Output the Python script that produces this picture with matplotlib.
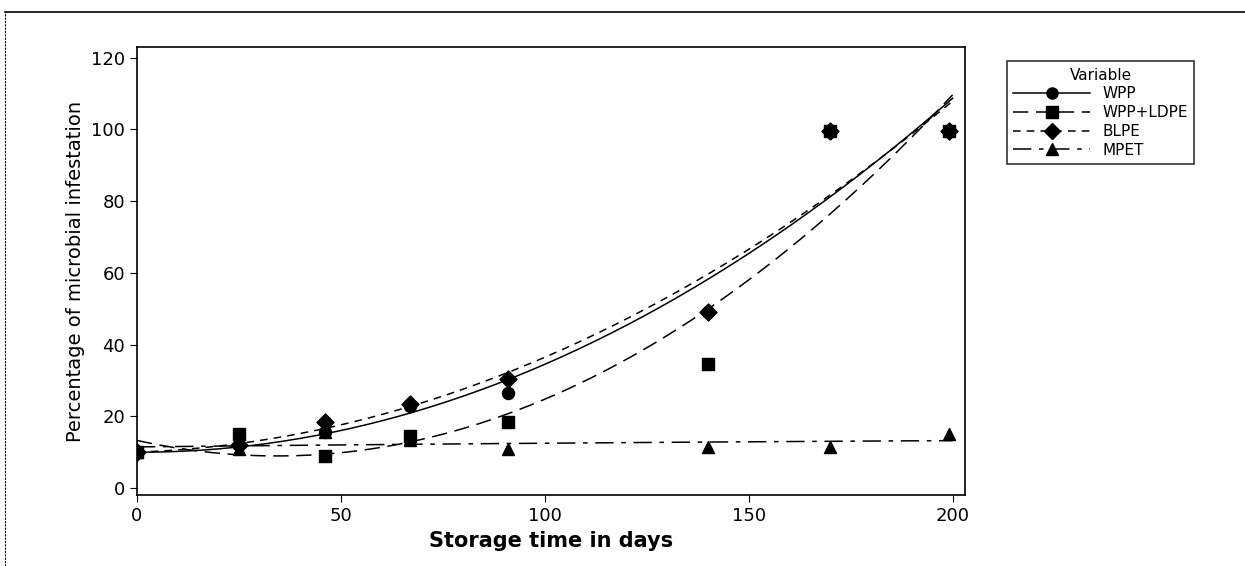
import numpy as np
import matplotlib.pyplot as plt
from matplotlib.lines import Line2D

days = [0, 25, 46, 67, 91, 140, 170, 199]
wpp = [10, 12, 15.5, 23, 26.5, 49, 99.5, 99.5]
wpp_ldpe = [10, 15, 9, 14.5, 18.5, 34.5, 99.5, 99.5]
blpe = [10, 12, 18.5, 23.5, 30.5, 49, 99.5, 99.5]
mpet = [10, 11, 15.5, 13.5, 11, 11.5, 11.5, 15]

labels = ['WPP', 'WPP+LDPE', 'BLPE', 'MPET']
series = [wpp, wpp_ldpe, blpe, mpet]
markers = ['o', 's', 'D', '^']
styles = ['-', (0, (10, 5)), (0, (5, 4)), (0, (12, 5, 3, 5))]

fig = plt.figure(figsize=(12.45, 5.66), dpi=100)
ax = fig.add_axes([0.110, 0.125, 0.665, 0.792])

xs = np.linspace(0, 200, 200)
handles = []
for vals, lab, m, ls in zip(series, labels, markers, styles):
    ax.scatter(days, vals, marker=m, s=75, color='black', zorder=3)
    # quadratic fitted line, as in the fitted line plot
    coef = np.polyfit(days, vals, 2)
    ax.plot(xs, np.polyval(coef, xs), color='black', lw=1.1, linestyle=ls)
    handles.append(Line2D([], [], color='black', marker=m, markersize=8,
                          linestyle=ls, lw=1.1))

ax.set_xlim(0, 203)
ax.set_ylim(-2, 123)
ax.set_xticks([0, 50, 100, 150, 200])
ax.set_yticks([0, 20, 40, 60, 80, 100, 120])
ax.tick_params(labelsize=13, direction='out', length=5, color='black')
for s in ax.spines.values():
    s.set_linewidth(1.2)

ax.set_xlabel('Storage time in days', fontsize=15, fontweight='bold')
ax.set_ylabel('Percentage of microbial infestation', fontsize=14)

leg = fig.legend(handles, labels, title='Variable', loc='upper left',
                 bbox_to_anchor=(0.803, 0.905), fontsize=11, title_fontsize=11,
                 frameon=True, fancybox=False, edgecolor='black',
                 handlelength=5, borderpad=0.4, labelspacing=0.25)
leg.get_frame().set_linewidth(1.2)

# page border from the scan
fig.add_artist(Line2D([0.004, 1.0], [0.978, 0.978], color='black', lw=1.2))
fig.add_artist(Line2D([0.004, 0.004], [0.0, 0.978], color='black', lw=0.8,
                      linestyle=(0, (2, 1))))

fig.savefig('out.png', dpi=100)
